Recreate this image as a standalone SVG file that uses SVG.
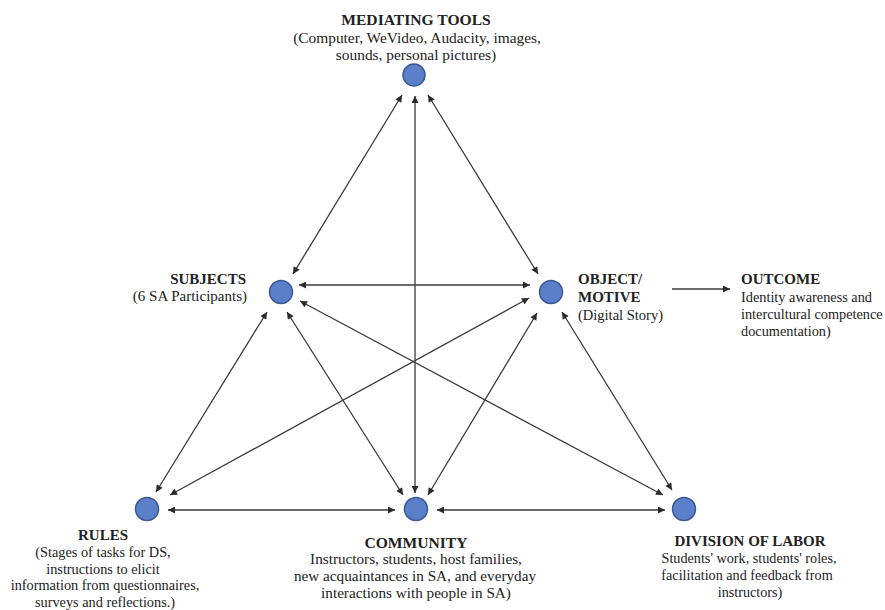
<svg xmlns="http://www.w3.org/2000/svg" width="885" height="610" viewBox="0 0 885 610">
<defs>
<marker id="ah" viewBox="0 0 10 10" refX="10" refY="5" markerWidth="8" markerHeight="7" markerUnits="userSpaceOnUse" orient="auto-start-reverse">
<path d="M0,0 L10,5 L0,10 z" fill="#2b2b2b"/>
</marker>
<style>
.c{fill:#5b7fc9;stroke:#3b5994;stroke-width:1.5}
.l{stroke:#3a3a3a;stroke-width:1.3;fill:none;marker-start:url(#ah);marker-end:url(#ah)}
.s{stroke:#3a3a3a;stroke-width:1.3;fill:none;marker-end:url(#ah)}
text{font-family:"Liberation Serif","Times New Roman",serif;fill:#222;font-size:14.5px}
.h{font-weight:bold;font-size:15px}
.m{text-anchor:middle}
.e{text-anchor:end}
</style>
</defs>
<rect width="885" height="610" fill="#fff"/>
<g id="connectors">
<line class="l" x1="402" y1="95" x2="293" y2="274"/>
<line class="l" x1="415" y1="96" x2="415" y2="493"/>
<line class="l" x1="428" y1="95" x2="538" y2="274"/>
<line class="l" x1="299" y1="285" x2="530" y2="285"/>
<line class="l" x1="267" y1="312" x2="156" y2="492"/>
<line class="l" x1="287" y1="312" x2="403" y2="495"/>
<line class="l" x1="300" y1="301" x2="663" y2="495"/>
<line class="l" x1="529" y1="298" x2="170" y2="495"/>
<line class="l" x1="537" y1="313" x2="428" y2="495"/>
<line class="l" x1="562" y1="312" x2="672" y2="490"/>
<line class="l" x1="168" y1="510" x2="395" y2="510"/>
<line class="l" x1="437" y1="510" x2="665" y2="510"/>
<line class="s" x1="672" y1="289" x2="730" y2="289"/>
</g>
<g id="mediating-tools">
<circle class="c" cx="414" cy="75" r="11"/>
<text class="h m" x="416" y="25" style="font-size:15.6px">MEDIATING TOOLS</text>
<text class="m" x="417" y="43" style="font-size:15.4px">(Computer, WeVideo, Audacity, images,</text>
<text class="m" x="416" y="60" style="font-size:15.4px">sounds, personal pictures)</text>
</g>
<g id="subjects">
<circle class="c" cx="281" cy="292" r="11.5"/>
<text class="h e" x="246" y="284">SUBJECTS</text>
<text class="e" x="247" y="301" style="font-size:15px">(6 SA Participants)</text>
</g>
<g id="object">
<circle class="c" cx="551" cy="292" r="11.5"/>
<text class="h" x="578" y="284">OBJECT/</text>
<text class="h" x="578" y="302">MOTIVE</text>
<text x="578" y="320">(Digital Story)</text>
</g>
<g id="outcome">
<text class="h" x="741" y="284">OUTCOME</text>
<text x="741" y="302" style="font-size:14.3px">Identity awareness and</text>
<text x="741" y="319" style="font-size:14.3px">intercultural competence</text>
<text x="741" y="336" style="font-size:14.3px">documentation)</text>
</g>
<g id="rules">
<circle class="c" cx="147" cy="509" r="11.5"/>
<text class="h m" x="103" y="540">RULES</text>
<text class="m" x="103" y="557" style="font-size:14.3px">(Stages of tasks for DS,</text>
<text class="m" x="103" y="573.5" style="font-size:14.3px">instructions to elicit</text>
<text class="m" x="105" y="590" style="font-size:14.3px">information from questionnaires,</text>
<text class="m" x="105" y="606.5" style="font-size:14.3px">surveys and reflections.)</text>
</g>
<g id="community">
<circle class="c" cx="416" cy="509" r="11.5"/>
<text class="h m" x="416" y="548" style="font-size:15.6px">COMMUNITY</text>
<text class="m" x="416" y="564" style="font-size:15.2px">Instructors, students, host families,</text>
<text class="m" x="415" y="581" style="font-size:15.2px">new acquaintances in SA, and everyday</text>
<text class="m" x="416" y="598" style="font-size:15.2px">interactions with people in SA)</text>
</g>
<g id="division-of-labor">
<circle class="c" cx="684" cy="509" r="11.5"/>
<text class="h m" x="750" y="546">DIVISION OF LABOR</text>
<text class="m" x="749" y="563" style="font-size:14.2px">Students' work, students' roles,</text>
<text class="m" x="747" y="580" style="font-size:14.2px">facilitation and feedback from</text>
<text class="m" x="750" y="597" style="font-size:14.2px">instructors)</text>
</g>
</svg>
